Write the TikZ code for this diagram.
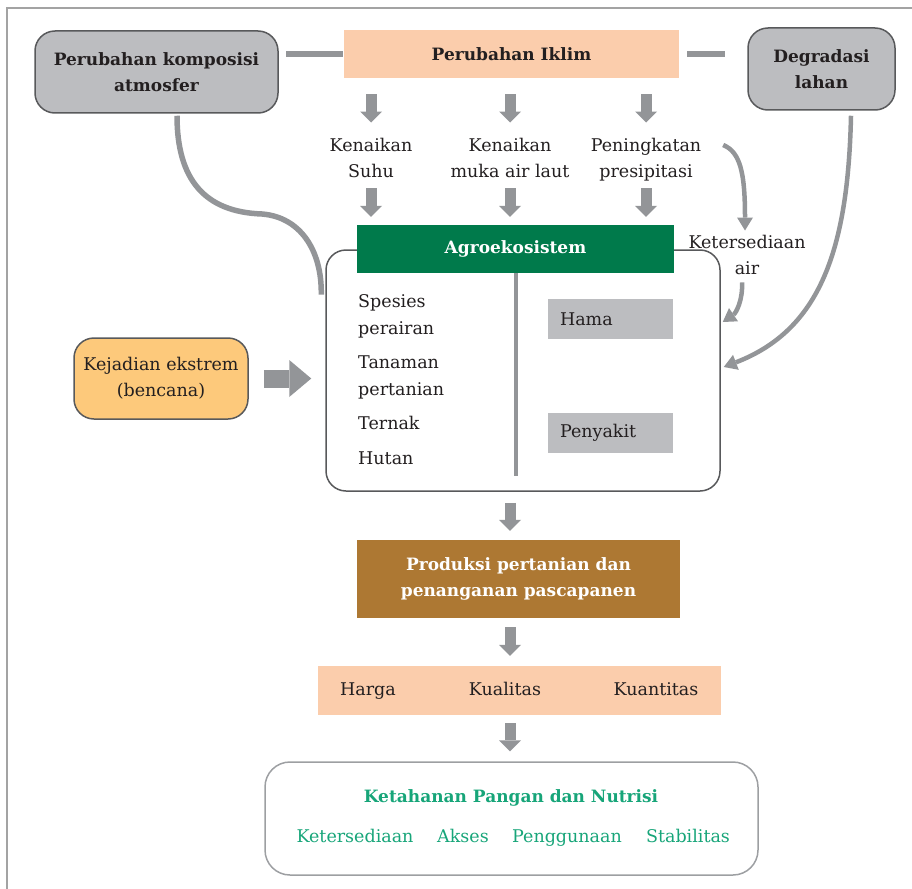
\documentclass[tikz,border=0pt]{standalone}
\usepackage{fontspec}
\setmainfont{DejaVu Serif}
\usetikzlibrary{arrows.meta,calc}

\definecolor{ink}{HTML}{231F20}
\definecolor{peach}{HTML}{FBCDAC}
\definecolor{boxgray}{HTML}{BCBDC0}
\definecolor{linegray}{HTML}{939598}
\definecolor{rimgray}{HTML}{58595B}
\definecolor{softrim}{HTML}{9D9FA2}
\definecolor{agrogreen}{HTML}{007A4B}
\definecolor{soilbrown}{HTML}{AD7833}
\definecolor{warmorange}{HTML}{FDC97B}
\definecolor{foodgreen}{HTML}{17A579}
\definecolor{framegray}{HTML}{A3A3A3}

\begin{document}
\begin{tikzpicture}[x=1pt,y=-1pt,
  every node/.style={text=ink, inner sep=0pt, font=\fontsize{17.5}{26}\selectfont},
  boldtext/.style={font=\fontsize{17}{26}\selectfont\bfseries},
  listtext/.style={font=\fontsize{17.5}{27}\selectfont, align=left},
  roundbox/.style={draw=rimgray, line width=1.5pt, rounded corners=20pt, align=center},
  tagbox/.style={fill=boxgray, minimum width=125pt, minimum height=40pt,
    inner xsep=12pt, text width=101pt, align=left},
  link/.style={draw=linegray, line width=5.5pt},
  curvearrow/.style={draw=linegray, line width=4.5pt,
    -{Triangle[width=16pt,length=13pt,line width=0pt]}},
  blockarrow/.style={draw=linegray, line width=11pt,
    -{Triangle[width=22pt,length=11pt,line width=0pt]}},
  bigarrow/.style={draw=linegray, line width=18pt,
    -{Triangle[width=37pt,length=22pt,line width=0pt]}},
]
\useasboundingbox (0,0) rectangle (912,888);

% page frame
\draw[framegray, line width=2.5pt] (7,890) -- (7,8) -- (914,8);

% column through the central arrows
\coordinate (col) at (510,0);

% top row
\node[roundbox, fill=boxgray, minimum width=243pt, minimum height=82pt, boldtext]
  (komp) at (156.5,72) {Perubahan komposisi\\atmosfer};
\node[fill=peach, minimum width=335pt, minimum height=48pt, boldtext]
  (iklim) at (511.5,54) {Perubahan Iklim};
\node[roundbox, fill=boxgray, minimum width=147pt, minimum height=82pt, boldtext]
  (degr) at (821.5,69) {Degradasi\\lahan};

\draw[link, shorten <=1pt, shorten >=7pt] (iklim.west) -- (iklim.west -| komp.east);
\draw[link, shorten <=8pt, shorten >=22pt] (iklim.east) -- (iklim.east -| degr.west);

% climate effects (base = last line)
\node[anchor=base, align=center] (suhu) at (371,177) {Kenaikan\\Suhu};
\node[anchor=base, align=center] (muka) at (510,177) {Kenaikan\\muka air laut};
\node[anchor=base, align=center] (presip) at (646,177) {Peningkatan\\presipitasi};

% agroecosystem
\node[roundbox, fill=white, minimum width=394pt, minimum height=241pt]
  (agro) at (523,370.5) {};
\node[fill=agrogreen, minimum width=317pt, minimum height=48pt, boldtext, text=white]
  (agrohead) at (515.5,249) {Agroekosistem};
\draw[linegray, line width=4pt] (516,273) -- (516,476);

\node[listtext, anchor=base west] (spesies) at (358,334) {Spesies\\perairan};
\node[listtext, anchor=base west] (tanaman) at (358,395) {Tanaman\\pertanian};
\node[listtext, anchor=base west] (ternak) at (358,429) {Ternak};
\node[listtext, anchor=base west] (hutan) at (358,464) {Hutan};

\node[tagbox] (hama) at (610.5,319) {Hama};
\node[tagbox] (penyakit) at (610.5,433) {Penyakit};

\node[anchor=base, align=center] (air) at (747,274) {Ketersediaan\\air};

% extreme events
\node[roundbox, fill=warmorange, minimum width=174pt, minimum height=81pt]
  (kej) at (161,378.5) {Kejadian ekstrem\\(bencana)};

% production and outcomes
\node[fill=soilbrown, minimum width=323pt, minimum height=78pt, boldtext, text=white,
  align=center] (prod) at (518.5,579) {Produksi pertanian dan\\penanganan pascapanen};

\node[fill=peach, minimum width=403pt, minimum height=49pt] (hkk) at (519.5,690.5) {};
\node[anchor=base] (harga) at (368,695) {Harga};
\node[anchor=base] (kualitas) at (505,695) {Kualitas};
\node[anchor=base] (kuantitas) at (656,695) {Kuantitas};

\node[draw=softrim, line width=1.5pt, rounded corners=25pt, minimum width=493pt,
  minimum height=113pt] (food) at (511.5,818.5) {};
\node[anchor=base, boldtext, text=foodgreen] (foodtitle) at (511,802)
  {Ketahanan Pangan dan Nutrisi};
\node[anchor=base, text=foodgreen] (ketersediaan) at (355,842) {Ketersediaan};
\node[anchor=base, text=foodgreen] (akses) at (463,842) {Akses};
\node[anchor=base, text=foodgreen] (penggunaan) at (567,842) {Penggunaan};
\node[anchor=base, text=foodgreen] (stabilitas) at (688,842) {Stabilitas};

% block arrows
\draw[blockarrow, shorten <=16pt, shorten >=15pt] (iklim.south -| suhu) -- (suhu.north);
\draw[blockarrow, shorten <=16pt, shorten >=15pt] (iklim.south -| muka) -- (muka.north);
\draw[blockarrow, shorten <=16pt, shorten >=15pt] (iklim.south -| presip) -- (presip.north);
\draw[blockarrow, shorten <=11pt, shorten >=8pt] (muka.south -| suhu) -- (agrohead.north -| suhu);
\draw[blockarrow, shorten <=11pt, shorten >=8pt] (muka.south) -- (agrohead.north -| muka);
\draw[blockarrow, shorten <=11pt, shorten >=8pt] (muka.south -| presip) -- (agrohead.north -| presip);
\draw[bigarrow, shorten <=15pt, shorten >=14pt] (kej.east) -- (kej.east -| agro.west);
\draw[blockarrow, shorten <=11pt, shorten >=9pt] (agro.south -| col) -- (prod.north -| col);
\draw[blockarrow, shorten <=9pt, shorten >=10pt] (prod.south -| col) -- (hkk.north -| col);
\draw[blockarrow, shorten <=8pt, shorten >=10pt] (hkk.south -| col) -- (food.north -| col);

% curved influences
\draw[link] ($(komp.south)+(20.5,2)$) .. controls (177,180) and (205,212) .. (262,214)
  .. controls (300,217) and (322,250) .. ($(agro.west)+(-4,-76)$);
\draw[curvearrow] ($(iklim.east)+(44,91)$) .. controls (740,152) and (745,172) .. ($(air.north)+(-2,-4)$);
\draw[curvearrow] ($(air.south)+(-5,8)$) .. controls (743,300) and (736,313) .. ($(agro.east)+(2,-48.5)$);
\draw[curvearrow] ($(degr.south)+(29.5,5)$) .. controls (848,250) and (820,330) .. ($(agro.east)+(3,-3.5)$);
\end{tikzpicture}
\end{document}
